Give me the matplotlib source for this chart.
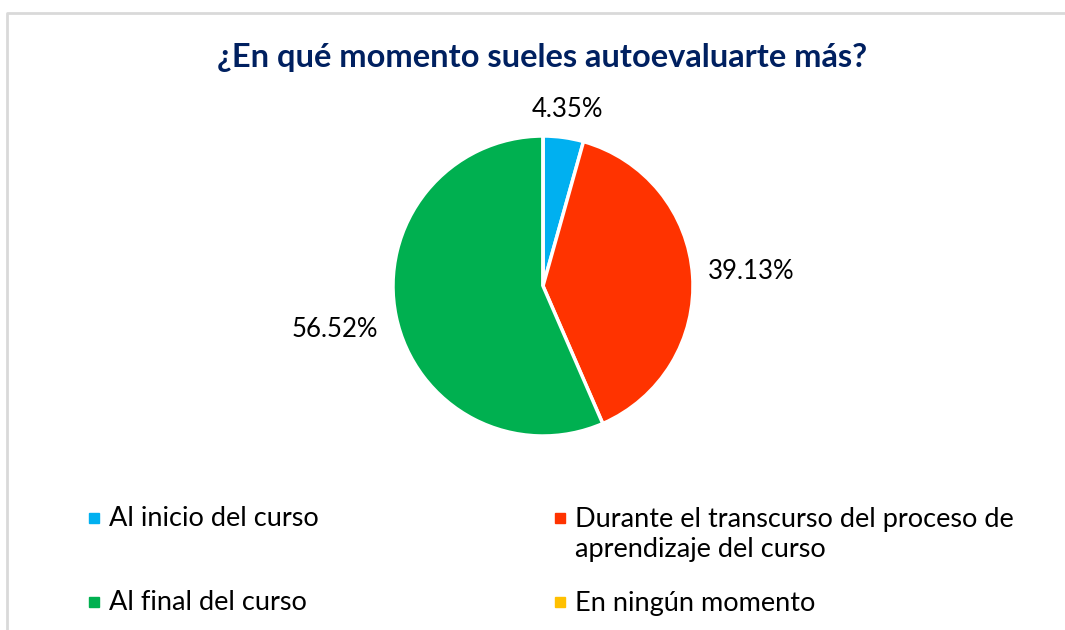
import matplotlib
matplotlib.use("Agg")
import matplotlib.pyplot as plt
from matplotlib.patches import Rectangle
import numpy as np

plt.rcParams["font.family"] = ["Lato", "DejaVu Sans"]

# datos del gráfico
titulo = "¿En qué momento sueles autoevaluarte más?"
categorias = [
    "Al inicio del curso",
    "Durante el transcurso del proceso de\naprendizaje del curso",
    "Al final del curso",
    "En ningún momento",
]
porcentajes = [4.35, 39.13, 56.52, 0.0]
colores = ["#00B0F0", "#FF3300", "#00B050", "#FFC000"]

W, H = 1065, 630
fig = plt.figure(figsize=(W / 100, H / 100), dpi=100)
ax = fig.add_axes([0, 0, 1, 1])

# pie en coordenadas de píxel (y hacia arriba)
cx, cy, r = 543, H - 286, 150
wedges, _ = ax.pie(
    porcentajes, colors=colores, startangle=90, counterclock=False,
    center=(cx, cy), radius=r, frame=True,
    wedgeprops={"edgecolor": "white", "linewidth": 2.5},
)
ax.set_xlim(0, W)
ax.set_ylim(0, H)
ax.set_aspect("auto")
ax.axis("off")

# etiquetas de porcentaje (fuera del sector)
dist = [1.19, 1.39, 1.42, None]
for w, p, d in zip(wedges, porcentajes, dist):
    if p <= 0 or d is None:
        continue
    ang = np.deg2rad((w.theta1 + w.theta2) / 2)
    ax.text(cx + r * d * np.cos(ang), cy + r * d * np.sin(ang), f"{p:.2f}%",
            ha="center", va="center", fontsize=18.5, color="black")

# título
ax.text(W / 2 + 10, H - 58, titulo, ha="center", va="center",
        fontsize=23.5, fontweight="bold", color="#002060")

# leyenda manual en 2 columnas
col_x = [94, 560]
row_y = [H - 518, H - 602]
orden = [(0, 0), (1, 0), (0, 1), (1, 1)]  # (columna, fila)
for (c, f), lab, col in zip(orden, categorias, colores):
    x, y = col_x[c], row_y[f]
    ax.add_patch(Rectangle((x - 5, y - 5), 10, 10, color=col, clip_on=False))
    ax.text(x + 15, y + 11.5, lab, ha="left", va="top", fontsize=19.5,
            color="black", linespacing=1.3)

# marco del área del gráfico
ax.plot([7, 7, W], [0, H - 13, H - 13], color="#D9D9D9", linewidth=2, clip_on=False)

fig.savefig("out.png", dpi=100)
